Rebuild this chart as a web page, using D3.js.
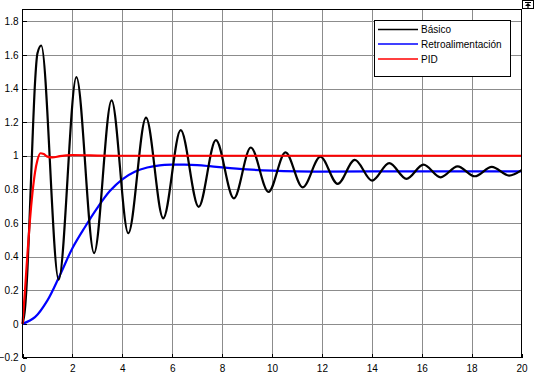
<!DOCTYPE html>
<html>
<head>
<meta charset="utf-8">
<script src="https://cdn.jsdelivr.net/npm/d3@7"></script>
<style>
  html, body { margin: 0; padding: 0; background: #fff; }
  svg { display: block; font-family: "Liberation Sans", Arial, sans-serif; }
</style>
</head>
<body>
<svg id="chart" width="536" height="380"></svg>
<script>
// ---- data ----
const seriesNames = ["Básico", "Retroalimentación", "PID"];
const seriesColors = ["#000000", "#0000ff", "#ff0000"];

// Básico: start, then peaks and troughs of the damped oscillation
const basicoT = [0, 0.1, 0.2, 0.3, 0.4, 0.5, 0.6, 0.75, 1.45, 2.16, 2.87, 3.57, 4.24, 4.95, 5.64, 6.34, 7.06, 7.75, 8.47, 9.15, 9.86, 10.54, 11.23, 11.94, 12.63, 13.32, 14.01, 14.70, 15.39, 16.07, 16.76, 17.44, 18.13, 18.81, 19.5, 20];
const basicoY = [0, 0.09, 0.33, 0.69, 1.09, 1.43, 1.61, 1.656, 0.263, 1.468, 0.421, 1.33, 0.539, 1.227, 0.628, 1.152, 0.696, 1.093, 0.747, 1.049, 0.785, 1.02, 0.812, 0.994, 0.833, 0.975, 0.852, 0.956, 0.863, 0.947, 0.872, 0.937, 0.878, 0.934, 0.882, 0.915];

const retroT = [0, 0.5, 1.0, 1.5, 2.0, 2.5, 3.0, 3.5, 4.0, 4.5, 5.0, 5.5, 6.0, 6.5, 7.0, 7.5, 8.0, 9.0, 10.0, 11.0, 12.0, 14.0, 20.0];
const retroY = [0, 0.04, 0.14, 0.29, 0.45, 0.575, 0.69, 0.79, 0.86, 0.905, 0.93, 0.943, 0.947, 0.947, 0.944, 0.938, 0.931, 0.919, 0.911, 0.907, 0.906, 0.907, 0.907];

const pidT = [0, 0.1, 0.2, 0.3, 0.4, 0.5, 0.6, 0.72, 0.85, 1.0, 1.2, 1.5, 2.0, 2.5, 3.0, 4.0, 20.0];
const pidY = [0, 0.2, 0.42, 0.62, 0.78, 0.9, 0.975, 1.015, 1.01, 0.995, 0.99, 0.998, 1.004, 1.003, 1.001, 1.0, 1.0];

const xTicks = [0, 2, 4, 6, 8, 10, 12, 14, 16, 18, 20];
const yTicks = [-0.2, 0, 0.2, 0.4, 0.6, 0.8, 1, 1.2, 1.4, 1.6, 1.8];
const xDomain = [0, 20];
const yDomain = [-0.2, 1.87];

// ---- layout ----
const L = 22.5, R = 521.5, T = 9.5, B = 357.5;
const FONT = "'Liberation Sans', Arial, sans-serif";
const svg = d3.select("#chart");

const x = d3.scaleLinear().domain(xDomain).range([L, R]);
const y = d3.scaleLinear().domain(yDomain).range([B, T]);

svg.append("rect").attr("width", 536).attr("height", 380).attr("fill", "#fff");

// grid
const grid = svg.append("g").attr("stroke", "#8c8c8c").attr("stroke-width", 1).attr("shape-rendering", "crispEdges");
grid.selectAll("line.gx").data(xTicks.slice(1, -1)).join("line")
  .attr("x1", d => Math.round(x(d)) + 0.5).attr("x2", d => Math.round(x(d)) + 0.5)
  .attr("y1", T).attr("y2", B);
grid.selectAll("line.gy").data(yTicks.slice(1)).join("line")
  .attr("y1", d => Math.round(y(d)) + 0.5).attr("y2", d => Math.round(y(d)) + 0.5)
  .attr("x1", L).attr("x2", R);

// axes (tick labels)
const xAxis = d3.axisBottom(x).tickValues(xTicks).tickSize(0).tickPadding(7).tickFormat(d3.format("d"));
const gx = svg.append("g").attr("transform", `translate(0,${B})`).call(xAxis);
const yAxis = d3.axisLeft(y).tickValues(yTicks).tickSize(0).tickPadding(4).tickFormat(d => d3.format("")(+d.toFixed(1)));
const gy = svg.append("g").attr("transform", `translate(${L},0)`).call(yAxis);
[gx, gy].forEach(g => {
  g.select(".domain").remove();
  g.selectAll("text").attr("font-size", 10).attr("fill", "#000").attr("font-family", FONT);
});

// inner ticks
const ticks = svg.append("g").attr("stroke", "#000").attr("shape-rendering", "crispEdges");
ticks.selectAll("line.tx").data(xTicks).join("line")
  .attr("x1", d => Math.round(x(d)) + 0.5).attr("x2", d => Math.round(x(d)) + 0.5)
  .attr("y1", B).attr("y2", B - 4);
ticks.selectAll("line.ty").data(yTicks).join("line")
  .attr("y1", d => Math.round(y(d)) + 0.5).attr("y2", d => Math.round(y(d)) + 0.5)
  .attr("x1", L).attr("x2", L + 4);

// series
const seriesData = [
  basicoT.map((t, i) => [t, basicoY[i]]),
  retroT.map((t, i) => [t, retroY[i]]),
  pidT.map((t, i) => [t, pidY[i]])
];
const curves = [d3.curveMonotoneX, d3.curveCatmullRom.alpha(0.5), d3.curveMonotoneX];
const plot = svg.append("g");
const drawOrder = [1, 0, 2];
drawOrder.forEach(i => {
  const line = d3.line().x(d => x(d[0])).y(d => y(d[1])).curve(curves[i]);
  plot.append("path").datum(seriesData[i])
    .attr("fill", "none").attr("stroke", seriesColors[i])
    .attr("stroke-width", 2.2).attr("stroke-linejoin", "round")
    .attr("d", line);
});

// axes box
svg.append("rect").attr("x", L).attr("y", T).attr("width", R - L).attr("height", B - T)
  .attr("fill", "none").attr("stroke", "#000").attr("stroke-width", 1).attr("shape-rendering", "crispEdges");

// legend
const lg = svg.append("g");
lg.append("rect").attr("x", 374.5).attr("y", 20.5).attr("width", 136).attr("height", 55.5)
  .attr("fill", "#fff").attr("stroke", "#000").attr("stroke-width", 1).attr("shape-rendering", "crispEdges");
const legY = [29.5, 44, 59];
seriesNames.forEach((name, i) => {
  lg.append("line").attr("x1", 378).attr("x2", 418).attr("y1", legY[i]).attr("y2", legY[i])
    .attr("stroke", seriesColors[i]).attr("stroke-width", 1.5);
  lg.append("text").attr("x", 421).attr("y", legY[i]).attr("dy", "0.35em")
    .attr("font-size", 10).attr("font-family", FONT).attr("fill", "#000").text(name);
});

// small toolbar icon at top right
const ic = svg.append("g");
ic.append("rect").attr("x", 522.5).attr("y", 0.5).attr("width", 11).attr("height", 8)
  .attr("fill", "#fff").attr("stroke", "#000").attr("stroke-width", 1).attr("shape-rendering", "crispEdges");
ic.append("line").attr("x1", 525).attr("x2", 531).attr("y1", 2.5).attr("y2", 2.5).attr("stroke", "#000").attr("stroke-width", 1);
ic.append("path").attr("d", "M525,6 L528,3 L531,6 Z").attr("fill", "#000");
ic.append("line").attr("x1", 528).attr("x2", 528).attr("y1", 4).attr("y2", 8).attr("stroke", "#000").attr("stroke-width", 1.2);
</script>
</body>
</html>
